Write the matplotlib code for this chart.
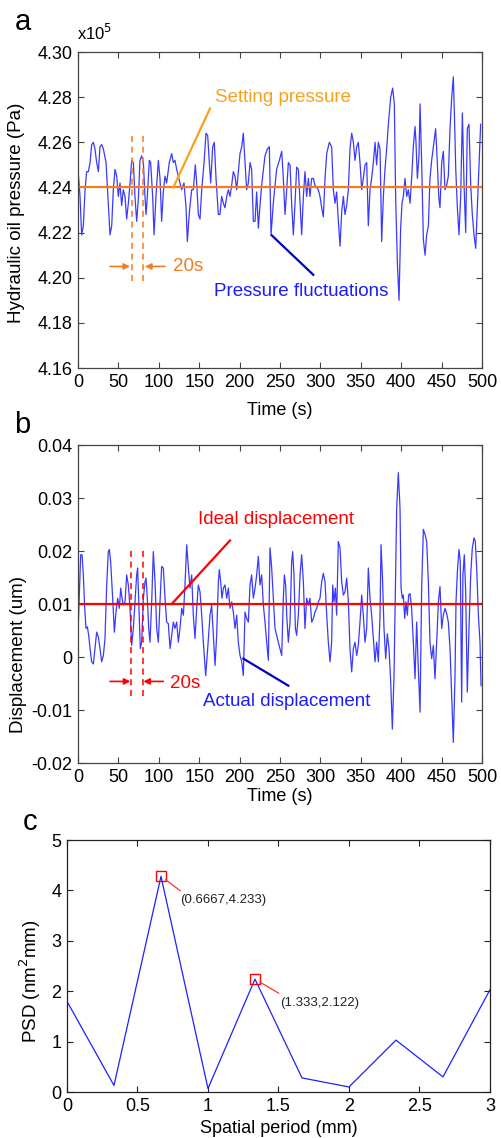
import numpy as np
import matplotlib
matplotlib.use("Agg")
import matplotlib.pyplot as plt

plt.rcParams["font.family"] = ["Liberation Sans", "DejaVu Sans"]

# ---- panel a: hydraulic oil pressure (x1e5 Pa) ----
t_a = [0, 2.5, 4.5, 6.6, 8.7, 10.7, 12.8, 14.9, 16.9, 19.0, 21.0, 23.1, 25.2, 27.2, 29.3,
       31.4, 34.7, 37.5, 39.6, 41.7, 43.7, 45.8, 47.9, 49.9, 52.0, 54.0, 56.1, 58.2, 60.2,
       62.3, 64.4, 66.4, 68.5, 70.5, 72.6, 74.7, 76.7, 78.8, 80.9, 82.9, 84.2, 85.8, 88.3,
       89.9, 92.4, 94.1, 96.5, 99.4, 101.5, 103.5, 105.6, 107.7, 109.7, 113.0, 115.9, 118.0,
       120.0, 122.1, 124.2, 126.2, 128.3, 131.2, 133.7, 135.3, 137.8, 140.7, 142.7, 145.2,
       146.9, 148.9, 151.0, 153.1, 156.0, 158.4, 160.5, 162.5, 164.2, 166.7, 168.7, 170.8,
       173.7, 175.7, 177.8, 179.9, 181.9, 184.0, 186.1, 188.1, 190.2, 192.2, 194.3, 196.4,
       200.5, 202.6, 204.6, 206.7, 208.7, 210.8, 212.9, 214.9, 217.0, 219.1, 221.1, 223.2,
       225.2, 227.3, 231.4, 234.3, 236.8, 238.9, 241.7, 245.8, 249.2, 252.1, 254.1, 256.2,
       258.3, 260.3, 262.4, 264.4, 266.5, 268.6, 270.6, 272.7, 274.8, 276.8, 278.9, 280.9,
       283.0, 285.1, 287.1, 289.2, 291.3, 293.3, 297.4, 299.5, 301.6, 303.6, 305.7, 307.8,
       311.1, 313.9, 316.0, 318.1, 320.1, 322.2, 324.3, 326.3, 328.4, 330.4, 332.5, 334.6,
       336.6, 338.7, 340.8, 342.8, 344.9, 346.9, 349.0, 351.1, 353.1, 355.2, 357.3, 359.3,
       361.4, 363.4, 365.5, 367.6, 369.6, 371.7, 373.8, 375.8, 377.9, 379.9, 382.0, 384.1,
       387.0, 389.4, 391.5, 393.1, 395.2, 397.3, 399.3, 401.0, 402.6, 404.7, 406.8, 408.8,
       410.9, 412.9, 415.0, 417.1, 418.3, 420.0, 422.0, 423.3, 425.3, 427.4, 429.5, 431.5,
       433.6, 435.6, 437.7, 439.8, 442.6, 444.7, 446.4, 448.0, 450.1, 452.1, 454.2, 456.3,
       458.3, 460.4, 462.5, 464.5, 465.8, 467.5, 469.5, 471.5, 473.6, 475.7, 477.7, 479.8,
       481.8, 483.9, 486.0, 488.0, 490.1, 492.2, 494.2, 496.3, 498.3]
p_a = [4.248, 4.236, 4.219, 4.223, 4.239, 4.247, 4.247, 4.251, 4.259, 4.260, 4.257, 4.251,
       4.247, 4.258, 4.259, 4.257, 4.251, 4.233, 4.219, 4.223, 4.239, 4.248, 4.245, 4.236,
       4.242, 4.232, 4.239, 4.236, 4.226, 4.233, 4.242, 4.252, 4.251, 4.236, 4.225, 4.235,
       4.252, 4.254, 4.251, 4.236, 4.228, 4.236, 4.252, 4.251, 4.236, 4.219, 4.236, 4.252,
       4.244, 4.225, 4.238, 4.245, 4.242, 4.251, 4.255, 4.251, 4.252, 4.248, 4.245, 4.242,
       4.239, 4.242, 4.231, 4.216, 4.229, 4.239, 4.239, 4.250, 4.242, 4.228, 4.226, 4.239,
       4.251, 4.264, 4.263, 4.251, 4.242, 4.258, 4.260, 4.244, 4.228, 4.228, 4.236, 4.233,
       4.231, 4.236, 4.239, 4.236, 4.241, 4.247, 4.245, 4.239, 4.255, 4.258, 4.264, 4.251,
       4.239, 4.242, 4.251, 4.248, 4.225, 4.225, 4.238, 4.222, 4.232, 4.241, 4.254, 4.257,
       4.258, 4.219, 4.233, 4.248, 4.252, 4.256, 4.244, 4.228, 4.239, 4.251, 4.250, 4.233,
       4.219, 4.233, 4.249, 4.248, 4.233, 4.219, 4.236, 4.247, 4.236, 4.244, 4.236, 4.244,
       4.244, 4.241, 4.239, 4.236, 4.231, 4.227, 4.244, 4.255, 4.260, 4.258, 4.239, 4.233,
       4.238, 4.225, 4.214, 4.229, 4.236, 4.228, 4.232, 4.239, 4.257, 4.264, 4.260, 4.252,
       4.258, 4.260, 4.251, 4.239, 4.244, 4.250, 4.251, 4.223, 4.239, 4.244, 4.251, 4.260,
       4.250, 4.260, 4.257, 4.216, 4.236, 4.248, 4.257, 4.268, 4.280, 4.284, 4.277, 4.236,
       4.207, 4.190, 4.222, 4.233, 4.236, 4.244, 4.236, 4.239, 4.233, 4.244, 4.258, 4.267,
       4.260, 4.244, 4.254, 4.277, 4.251, 4.217, 4.210, 4.219, 4.223, 4.244, 4.252, 4.258,
       4.266, 4.251, 4.236, 4.231, 4.251, 4.256, 4.239, 4.241, 4.245, 4.266, 4.280, 4.289,
       4.273, 4.248, 4.231, 4.219, 4.236, 4.273, 4.242, 4.220, 4.266, 4.268, 4.241, 4.228,
       4.219, 4.213, 4.231, 4.251, 4.268]
SET_PRESSURE = 4.24

# ---- panel b: displacement (um) ----
t_b = [0, 1.7, 3.3, 5.0, 6.6, 8.3, 9.9, 11.6, 13.2, 14.9, 16.9, 19.0, 21.0, 23.1, 25.2,
       27.2, 29.3, 31.4, 33.4, 35.5, 37.5, 38.8, 40.4, 42.9, 45.0, 47.0, 49.1, 51.2, 52.8,
       54.5, 56.1, 58.2, 60.2, 62.3, 64.4, 66.4, 68.5, 70.5, 72.6, 73.8, 75.5, 77.1, 78.8,
       80.9, 82.9, 84.2, 85.8, 87.5, 89.1, 91.2, 93.2, 95.3, 97.4, 99.4, 101.5, 103.5, 105.6,
       107.7, 109.7, 111.8, 113.9, 115.9, 118.0, 120.0, 122.1, 124.2, 126.2, 128.3, 130.4,
       132.4, 134.5, 136.6, 138.6, 140.7, 142.7, 144.8, 146.9, 148.9, 151.0, 153.1, 155.1,
       158.0, 160.5, 163.4, 165.4, 167.5, 169.6, 171.6, 173.7, 174.9, 176.6, 178.2, 179.9,
       181.9, 184.0, 186.1, 188.1, 190.2, 192.2, 194.3, 196.4, 198.4, 200.5, 202.6, 204.6,
       206.7, 208.7, 210.8, 212.9, 214.9, 217.0, 219.1, 221.1, 223.2, 225.2, 227.3, 229.4,
       231.4, 233.5, 235.6, 237.6, 239.7, 241.7, 243.8, 247.9, 252.1, 254.1, 255.4, 257.0,
       258.3, 260.3, 262.4, 264.4, 265.7, 267.3, 269.0, 270.6, 272.7, 274.8, 276.8, 278.9,
       280.9, 283.0, 285.1, 287.1, 289.2, 291.3, 293.3, 295.4, 297.4, 299.5, 301.6, 303.6,
       305.7, 307.8, 309.8, 311.9, 313.9, 315.2, 316.8, 318.5, 320.1, 322.2, 324.3, 326.3,
       328.4, 330.4, 332.5, 334.6, 336.6, 338.7, 340.8, 342.8, 344.9, 346.9, 349.0, 351.1,
       353.1, 355.2, 357.3, 359.3, 361.4, 363.4, 365.5, 367.6, 369.6, 371.7, 373.8, 375.0,
       376.7, 378.7, 380.8, 382.8, 384.9, 387.0, 389.0, 391.1, 392.7, 394.4, 396.4, 398.5,
       399.8, 401.4, 402.6, 404.3, 405.9, 407.6, 409.2, 410.9, 412.9, 415.0, 417.1, 419.1,
       421.2, 423.3, 425.3, 427.4, 429.5, 431.5, 433.6, 435.6, 437.7, 439.8, 441.8, 443.9,
       446.0, 448.0, 450.1, 452.1, 454.2, 456.3, 458.3, 460.4, 462.5, 464.5, 466.6, 467.8,
       469.5, 471.5, 473.1, 474.8, 476.4, 478.1, 479.8, 481.8, 483.9, 486.0, 488.0, 490.1,
       491.7, 493.4, 495.5, 497.5, 498.8]
d_b = [0.0044, 0.0123, 0.0193, 0.0193, 0.0155, 0.0092, 0.0054, 0.0057, 0.0041, 0.0016,
       -0.0009, -0.0013, 0.0016, 0.0047, 0.0038, 0.0016, -0.0009, 0.0003, 0.0035, 0.0136,
       0.0199, 0.0203, 0.0180, 0.0111, 0.0047, 0.0085, 0.0111, 0.0092, 0.0130, 0.0111,
       0.0098, 0.0104, 0.0155, 0.0136, 0.0092, 0.0022, 0.0054, 0.0104, 0.0155, 0.0168,
       0.0092, 0.0016, 0.0028, 0.0111, 0.0142, 0.0149, 0.0111, 0.0054, 0.0028, 0.0104,
       0.0199, 0.0142, 0.0054, 0.0028, 0.0104, 0.0171, 0.0168, 0.0111, 0.0066, 0.0063,
       0.0016, 0.0041, 0.0066, 0.0054, 0.0066, 0.0028, 0.0054, 0.0092, 0.0079, 0.0136,
       0.0212, 0.0168, 0.0130, 0.0155, 0.0079, 0.0035, 0.0092, 0.0136, 0.0123, 0.0079,
       0.0028, -0.0035, 0.0016, 0.0079, 0.0098, 0.0041, -0.0016, 0.0041, 0.0142, 0.0165,
       0.0142, 0.0111, 0.0130, 0.0136, 0.0111, 0.0130, 0.0092, 0.0104, 0.0085, 0.0054,
       0.0079, 0.0028, 0.0003, -0.0009, -0.0035, 0.0085, 0.0073, 0.0066, 0.0136, 0.0155,
       0.0111, 0.0130, 0.0155, 0.0190, 0.0136, 0.0155, 0.0098, 0.0066, 0.0028, -0.0006,
       0.0206, 0.0168, 0.0111, 0.0054, 0.0028, 0.0003, 0.0111, 0.0155, 0.0136, 0.0079,
       0.0028, 0.0066, 0.0180, 0.0199, 0.0155, 0.0054, 0.0041, 0.0079, 0.0155, 0.0193,
       0.0142, 0.0054, 0.0111, 0.0098, 0.0111, 0.0066, 0.0073, 0.0085, 0.0092, 0.0104,
       0.0111, 0.0142, 0.0158, 0.0142, 0.0079, 0.0028, -0.0009, 0.0028, 0.0136, 0.0104,
       0.0130, 0.0079, 0.0218, 0.0206, 0.0142, 0.0117, 0.0123, 0.0149, 0.0104, 0.0016,
       -0.0028, 0.0016, 0.0028, 0.0003, 0.0022, 0.0066, 0.0117, 0.0079, 0.0028, 0.0054,
       0.0168, 0.0111, 0.0079, 0.0035, -0.0009, 0.0028, -0.0009, 0.0079, 0.0212, 0.0155,
       0.0054, -0.0003, 0.0044, 0.0016, -0.0047, -0.0136, -0.0035, 0.0117, 0.0282, 0.0348,
       0.0282, 0.0130, 0.0111, 0.0117, 0.0073, 0.0104, 0.0079, 0.0117, 0.0120, 0.0092,
       0.0028, -0.0041, 0.0066, -0.0022, -0.0104, 0.0130, 0.0241, 0.0231, 0.0218, 0.0142,
       0.0028, -0.0003, 0.0022, -0.0041, 0.0028, 0.0104, 0.0133, 0.0054, 0.0079, 0.0092,
       0.0082, 0.0066, 0.0016, -0.0073, -0.0161, -0.0035, 0.0104, 0.0161, 0.0203, 0.0180,
       -0.0085, 0.0155, 0.0193, 0.0123, -0.0066, 0.0054, 0.0155, 0.0206, 0.0225, 0.0218,
       0.0168, 0.0079, 0.0028, -0.0054]
IDEAL_DISP = 0.01

# ---- panel c: PSD vs spatial period ----
period_c = [0, 0.3333, 0.6667, 1.0, 1.3333, 1.6667, 2.0, 2.3333, 2.6667, 3.0]
psd_c = [1.80, 0.13, 4.28, 0.07, 2.24, 0.28, 0.10, 1.03, 0.30, 2.03]
peak_idx = [2, 4]
peak_labels = ["(0.6667,4.233)", "(1.333,2.122)"]

TRACE = "#3a3aff"
ORANGE = "#f47b20"
SET_ORANGE = "#f8a11c"
DARKBLUE = "#0000c8"
FS = 13


def style_ax(ax, color="#444444"):
    for s in ax.spines.values():
        s.set_color(color)
        s.set_linewidth(0.9)
    ax.tick_params(direction="in", top=True, right=True, length=4, width=0.8,
                   color=color, labelsize=FS, pad=4, labelcolor="black")


def panel_a(ax):
    ax.plot(t_a, p_a, color=TRACE, lw=0.9)
    ax.axhline(SET_PRESSURE, color=ORANGE, lw=1.6)
    for x in (67.2, 80.0):
        ax.plot([x, x], [4.1984, 4.2626], color=ORANGE, lw=1.1, ls=(0, (4, 3)))
    arw = dict(arrowstyle="-|>", color=ORANGE, lw=1.2, mutation_scale=9,
               shrinkA=0, shrinkB=0)
    ax.annotate("", xy=(64.4, 4.205), xytext=(39.6, 4.205), arrowprops=arw)
    ax.annotate("", xy=(82.9, 4.205), xytext=(107.7, 4.205), arrowprops=arw)
    ax.text(118, 4.205, "20s", color=ORANGE, fontsize=FS + 0.5, va="center")
    ax.plot([118, 163.4], [4.24, 4.275], color=SET_ORANGE, lw=1.6)
    ax.text(169.5, 4.280, "Setting pressure", color=SET_ORANGE, fontsize=FS + 0.5,
            va="center")
    ax.plot([239.7, 291.2], [4.2188, 4.2013], color=DARKBLUE, lw=1.6)
    ax.text(168, 4.194, "Pressure fluctuations", color="#1c1cff", fontsize=FS + 0.5,
            va="center")
    ax.set_xlim(0, 500)
    ax.set_ylim(4.16, 4.30)
    ax.set_xticks(np.arange(0, 501, 50))
    ax.set_yticks(np.arange(4.16, 4.301, 0.02))
    ax.set_yticklabels([f"{v:.2f}" for v in np.arange(4.16, 4.301, 0.02)])
    ax.set_xlabel("Time (s)", fontsize=FS)
    ax.set_ylabel("Hydraulic oil pressure (Pa)", fontsize=FS + 0.5)
    ax.xaxis.set_label_coords(0.5, -0.108)
    ax.yaxis.set_label_coords(-0.131, 0.49)
    style_ax(ax)


def panel_b(ax):
    ax.plot(t_b, d_b, color=TRACE, lw=0.9)
    ax.axhline(IDEAL_DISP, color="red", lw=1.6)
    for x in (65.6, 80.0):
        ax.plot([x, x], [-0.0073, 0.0206], color="red", lw=1.1, ls=(0, (4, 3)))
    arw = dict(arrowstyle="-|>", color="red", lw=1.2, mutation_scale=9,
               shrinkA=0, shrinkB=0)
    ax.annotate("", xy=(64.8, -0.0046), xytext=(39.6, -0.0046), arrowprops=arw)
    ax.annotate("", xy=(80.9, -0.0046), xytext=(105.6, -0.0046), arrowprops=arw)
    ax.text(114, -0.0050, "20s", color="red", fontsize=FS + 0.5, va="center")
    ax.plot([115.9, 188.1], [0.01, 0.022], color="red", lw=1.6)
    ax.text(149, 0.026, "Ideal displacement", color="red", fontsize=FS + 0.5,
            va="center")
    ax.plot([204.6, 260.3], [-0.0003, -0.0054], color=DARKBLUE, lw=1.6)
    ax.text(155, -0.0084, "Actual displacement", color="#1c1cff", fontsize=FS + 0.5,
            va="center")
    ax.set_xlim(0, 500)
    ax.set_ylim(-0.02, 0.04)
    ax.set_xticks(np.arange(0, 501, 50))
    yt = [-0.02, -0.01, 0, 0.01, 0.02, 0.03, 0.04]
    ax.set_yticks(yt)
    ax.set_yticklabels(["-0.02", "-0.01", "0", "0.01", "0.02", "0.03", "0.04"])
    ax.set_xlabel("Time (s)", fontsize=FS)
    ax.set_ylabel("Displacement (um)", fontsize=FS + 0.5)
    ax.xaxis.set_label_coords(0.5, -0.079)
    ax.yaxis.set_label_coords(-0.126, 0.34)
    style_ax(ax)


def panel_c(ax):
    ax.plot(period_c, psd_c, color="#2020ff", lw=0.9)
    px = [period_c[i] for i in peak_idx]
    py = [psd_c[i] for i in peak_idx]
    ax.plot(px, py, ls="none", marker="s", ms=7, mfc="none", mec="red", mew=1.0)
    offs = [(13.7, -17.3), (18.0, -17.0)]
    for x, y, lbl, off in zip(px, py, peak_labels, offs):
        ax.annotate(lbl, xy=(x, y), xytext=off, textcoords="offset points",
                    fontsize=9.5, va="center", ha="left", color="#222222",
                    arrowprops=dict(arrowstyle="-", color="#ff3030", lw=0.9,
                                    shrinkA=1, shrinkB=4, relpos=(0.06, 1.0)))
    ax.set_xlim(0, 3)
    ax.set_ylim(0, 5)
    ax.set_xticks([0, 0.5, 1, 1.5, 2, 2.5, 3])
    ax.set_xticklabels(["0", "0.5", "1", "1.5", "2", "2.5", "3"])
    ax.set_yticks(range(6))
    ax.set_xlabel("Spatial period (mm)", fontsize=FS)
    ax.set_ylabel("PSD (nm$^2$mm)", fontsize=FS + 0.5)
    ax.xaxis.set_label_coords(0.5, -0.11)
    ax.yaxis.set_label_coords(-0.057, 0.44)
    style_ax(ax, color="#222222")


def main():
    fig = plt.figure(figsize=(5.01, 11.38), dpi=100)
    ax_a = fig.add_axes([0.1557, 0.6766, 0.8064, 0.2777])
    ax_b = fig.add_axes([0.1557, 0.3295, 0.8064, 0.2794])
    ax_c = fig.add_axes([0.1337, 0.0404, 0.8443, 0.2214])
    panel_a(ax_a)
    panel_b(ax_b)
    panel_c(ax_c)
    fig.text(0.046, 0.981, "a", fontsize=21, ha="center", va="center")
    fig.text(0.044, 0.6265, "b", fontsize=21, ha="center", va="center")
    fig.text(0.060, 0.2777, "c", fontsize=21, ha="center", va="center")
    fig.text(0.154, 0.971, "x10$^5$", fontsize=FS - 1, ha="left", va="center")
    fig.savefig("out.png", dpi=100)
    plt.close(fig)


if __name__ == "__main__":
    main()
